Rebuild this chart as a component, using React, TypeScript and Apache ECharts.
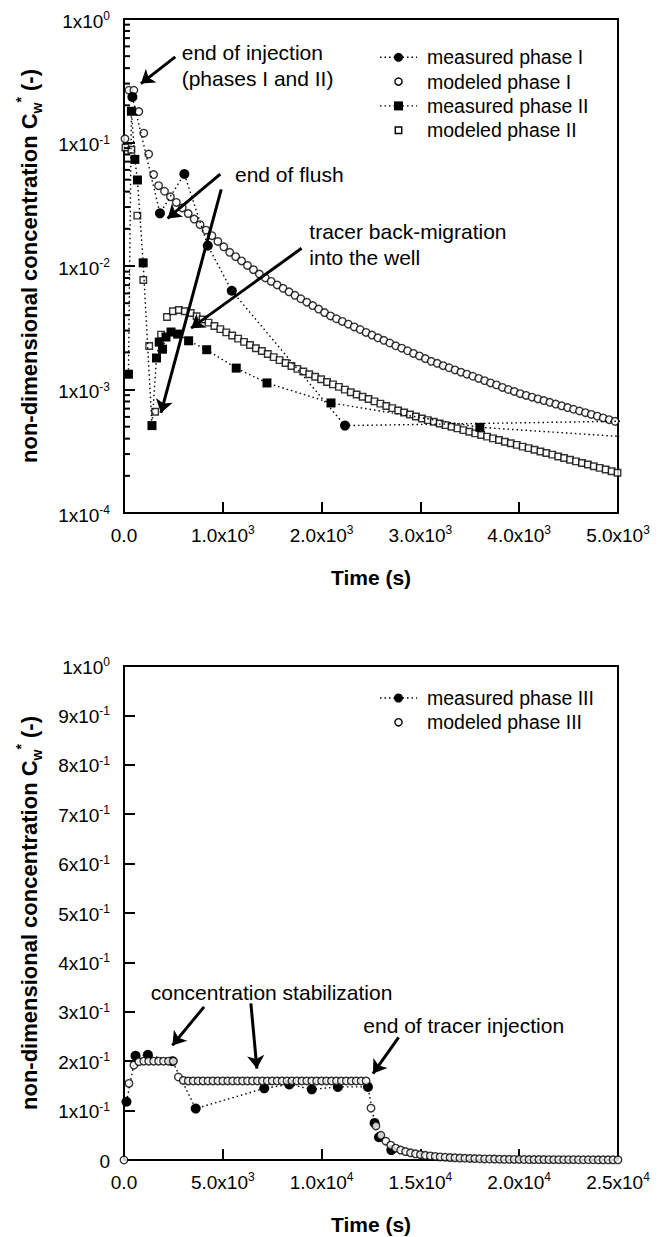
import React, { useEffect, useRef } from 'react';
import * as echarts from 'echarts';

const FONT = '"Liberation Sans", Arial, Helvetica, sans-serif';

// ---------- top chart (phases I and II) ----------
const measuredITime = [85, 364, 611, 848, 1091, 2237, 7200];
const measuredIValue = [0.234, 0.0267, 0.0556, 0.0146, 0.0063, 0.00051, 0.00059];

const measuredIITime = [45, 75, 110, 136, 194, 283, 329, 357, 390, 425, 476, 543, 654, 837, 1136, 1447, 2095, 3602, 7200];
const measuredIIValue = [0.00133, 0.179, 0.073, 0.0497, 0.0106, 0.00051, 0.0018, 0.00242, 0.00212, 0.00266, 0.00292, 0.00281, 0.00248, 0.0021, 0.00149, 0.00113, 0.000778, 0.000494, 0.00032];

const modeledITime = [10, 50, 100, 150, 200, 250, 300, 350, 410, 470, 530, 590, 650, 710, 770, 830, 890, 950, 1010, 1070, 1130, 1190, 1250, 1310, 1370, 1430, 1490, 1550, 1610, 1670, 1730, 1790, 1850, 1910, 1970, 2030, 2090, 2150, 2210, 2270, 2330, 2390, 2450, 2510, 2570, 2630, 2690, 2750, 2810, 2870, 2930, 2990, 3050, 3110, 3170, 3230, 3290, 3350, 3410, 3470, 3530, 3590, 3650, 3710, 3770, 3830, 3890, 3950, 4010, 4070, 4130, 4190, 4250, 4310, 4370, 4430, 4490, 4550, 4610, 4670, 4730, 4790, 4850, 4910, 4970];
const modeledIValue = [0.107, 0.265, 0.265, 0.178, 0.119, 0.0806, 0.055, 0.0447, 0.0403, 0.0363, 0.0327, 0.0295, 0.0266, 0.024, 0.0216, 0.0195, 0.0176, 0.0158, 0.0143, 0.0129, 0.0119, 0.011, 0.0101, 0.00933, 0.00861, 0.008, 0.0075, 0.00703, 0.00659, 0.00618, 0.00579, 0.00543, 0.00509, 0.00478, 0.00448, 0.0042, 0.00394, 0.00374, 0.00356, 0.00338, 0.00321, 0.00306, 0.0029, 0.00276, 0.00262, 0.0025, 0.00238, 0.00226, 0.00216, 0.00206, 0.00196, 0.00187, 0.00178, 0.00169, 0.00163, 0.00156, 0.0015, 0.00144, 0.00138, 0.00133, 0.00128, 0.00123, 0.00118, 0.00113, 0.00109, 0.00104, 0.001, 0.000964, 0.000925, 0.000895, 0.000867, 0.000839, 0.000813, 0.000787, 0.000762, 0.000738, 0.000714, 0.000692, 0.00067, 0.000649, 0.000628, 0.000608, 0.000589, 0.00057, 0.000552];

const modeledIITime = [15, 75, 135, 195, 255, 315, 375, 435, 495, 555, 615, 675, 735, 795, 855, 915, 975, 1035, 1095, 1155, 1215, 1275, 1335, 1395, 1455, 1515, 1575, 1635, 1695, 1755, 1815, 1875, 1935, 1995, 2055, 2115, 2175, 2235, 2295, 2355, 2415, 2475, 2535, 2595, 2655, 2715, 2775, 2835, 2895, 2955, 3015, 3075, 3135, 3195, 3255, 3315, 3375, 3435, 3495, 3555, 3615, 3675, 3735, 3795, 3855, 3915, 3975, 4035, 4095, 4155, 4215, 4275, 4335, 4395, 4455, 4515, 4575, 4635, 4695, 4755, 4815, 4875, 4935, 4995];
const modeledIIValue = [0.091, 0.0874, 0.0256, 0.0077, 0.00225, 0.00066, 0.00278, 0.00386, 0.0043, 0.0044, 0.0043, 0.00416, 0.00392, 0.00369, 0.00348, 0.00327, 0.00308, 0.0029, 0.00274, 0.00258, 0.00243, 0.00229, 0.00216, 0.00205, 0.00194, 0.00183, 0.00173, 0.00164, 0.00155, 0.00147, 0.0014, 0.00133, 0.00127, 0.00121, 0.00115, 0.0011, 0.00105, 0.000998, 0.000951, 0.000912, 0.000873, 0.000838, 0.000802, 0.000769, 0.000736, 0.000706, 0.000676, 0.000652, 0.000628, 0.000605, 0.000583, 0.000565, 0.000548, 0.000531, 0.000515, 0.000499, 0.000484, 0.000469, 0.000455, 0.000441, 0.000428, 0.000415, 0.000402, 0.00039, 0.000378, 0.000367, 0.000356, 0.000345, 0.000335, 0.000325, 0.000315, 0.000306, 0.000297, 0.000287, 0.000279, 0.00027, 0.000262, 0.000254, 0.000247, 0.000239, 0.000232, 0.000225, 0.000218, 0.000212];

const logMinorTicks = [
  2e-4, 3e-4, 4e-4, 5e-4, 6e-4, 7e-4, 8e-4, 9e-4,
  2e-3, 3e-3, 4e-3, 5e-3, 6e-3, 7e-3, 8e-3, 9e-3,
  2e-2, 3e-2, 4e-2, 5e-2, 6e-2, 7e-2, 8e-2, 9e-2,
  2e-1, 3e-1, 4e-1, 5e-1, 6e-1, 7e-1, 8e-1, 9e-1,
];

// arrows of the top chart, [time, concentration] from -> to
const topArrows = [
  [[519, 0.493], [171, 0.3]],
  [[974, 0.0555], [441, 0.0243]],
  [[984, 0.0418], [374, 0.000646]],
  [[1797, 0.0139], [679, 0.00314]],
];

// ---------- bottom chart (phase III) ----------
const measuredIIITime = [127, 584, 1208, 2447, 3629, 7097, 8365, 9503, 10822, 12345, 12680, 12903, 13528];
const measuredIIIValue = [0.118, 0.211, 0.213, 0.2, 0.104, 0.145, 0.153, 0.143, 0.148, 0.148, 0.075, 0.046, 0.02];

const modeledIIITime = [0, 250, 500, 750, 1000, 1250, 1500, 1750, 2000, 2250, 2500, 2750, 3000, 3250, 3500, 3750, 4000, 4250, 4500, 4750, 5000, 5250, 5500, 5750, 6000, 6250, 6500, 6750, 7000, 7250, 7500, 7750, 8000, 8250, 8500, 8750, 9000, 9250, 9500, 9750, 10000, 10250, 10500, 10750, 11000, 11250, 11500, 11750, 12000, 12250, 12500, 12750, 13000, 13250, 13500, 13750, 14000, 14250, 14500, 14750, 15000, 15250, 15500, 15750, 16000, 16250, 16500, 16750, 17000, 17250, 17500, 17750, 18000, 18250, 18500, 18750, 19000, 19250, 19500, 19750, 20000, 20250, 20500, 20750, 21000, 21250, 21500, 21750, 22000, 22250, 22500, 22750, 23000, 23250, 23500, 23750, 24000, 24250, 24500, 24750, 25000];
const modeledIIIValue = [0, 0.155, 0.192, 0.199, 0.2, 0.2, 0.2, 0.2, 0.2, 0.2, 0.2, 0.168, 0.161, 0.16, 0.16, 0.16, 0.16, 0.16, 0.16, 0.16, 0.16, 0.16, 0.16, 0.16, 0.16, 0.16, 0.16, 0.16, 0.16, 0.16, 0.16, 0.16, 0.16, 0.16, 0.16, 0.16, 0.16, 0.16, 0.16, 0.16, 0.16, 0.16, 0.16, 0.16, 0.16, 0.16, 0.16, 0.16, 0.16, 0.16, 0.105, 0.069, 0.05, 0.038, 0.03, 0.024, 0.02, 0.017, 0.0145, 0.0125, 0.0108, 0.0094, 0.0082, 0.0072, 0.0063, 0.0056, 0.005, 0.0044, 0.0039, 0.0035, 0.0031, 0.0028, 0.0025, 0.0022, 0.002, 0.0018, 0.0016, 0.0014, 0.0013, 0.0012, 0.0011, 0.001, 0.0009, 0.0009, 0.0008, 0.0008, 0.0007, 0.0007, 0.0007, 0.0006, 0.0006, 0.0006, 0.0005, 0.0005, 0.0005, 0.0005, 0.0004, 0.0004, 0.0004, 0.0004, 0.0004];

const bottomArrows = [
  [[4051, 0.31], [2447, 0.232]],
  [[6421, 0.317], [6726, 0.185]],
  [[13898, 0.248], [12599, 0.175]],
];

const topLegend = ['measured phase I', 'modeled phase I', 'measured phase II', 'modeled phase II'];
const bottomLegend = ['measured phase III', 'modeled phase III'];

const zip = (t: number[], v: number[]) => t.map((x, i) => [x, v[i]]);

const supRich = {
  s: { fontSize: 12, lineHeight: 12, verticalAlign: 'top', fontFamily: FONT, color: '#000' },
};

const nameRich = {
  sub: { fontSize: 14, lineHeight: 14, fontWeight: 'bold', verticalAlign: 'bottom', fontFamily: FONT, color: '#000' },
  sup: { fontSize: 14, lineHeight: 14, fontWeight: 'bold', verticalAlign: 'top', fontFamily: FONT, color: '#000' },
};

const dotted = { color: '#000', width: 1.4, type: [1.5, 3] as any };

function axisCommon() {
  return {
    axisLine: { show: true, onZero: false, lineStyle: { color: '#000', width: 2 } },
    axisTick: { show: true, inside: true, length: 11, lineStyle: { color: '#000', width: 2 } },
    splitLine: { show: false },
  };
}

function labelCommon(extra: any) {
  return {
    color: '#000',
    fontFamily: FONT,
    fontSize: 19,
    lineHeight: 22,
    rich: supRich,
    ...extra,
  };
}

const yName = 'non-dimensional concentration C{sub|w}{sup|*} (-)';
const yNameStyle = {
  fontFamily: FONT,
  fontSize: 22,
  fontWeight: 'bold',
  color: '#000',
  lineHeight: 30,
  rich: nameRich,
};

function arrowMarkLine(arrows: number[][][]) {
  return {
    silent: true,
    symbol: ['none', 'arrow'],
    symbolSize: 13,
    label: { show: false },
    lineStyle: { color: '#000', width: 3, type: 'solid' },
    emphasis: { disabled: true },
    data: arrows.map(([a, b]) => [{ coord: a }, { coord: b }]),
  };
}

function legendGraphic(names: string[], kinds: { sym: string; filled: boolean }[], y0: number, gap: number) {
  const els: any[] = [];
  names.forEach((name, i) => {
    const y = y0 + i * gap;
    const k = kinds[i];
    if (k.filled) {
      els.push({ type: 'line', shape: { x1: 380, y1: y, x2: 417, y2: y }, style: { stroke: '#000', lineWidth: 1.4, lineDash: [1.5, 3] } });
    }
    if (k.sym === 'circle') {
      els.push({
        type: 'circle',
        shape: { cx: 398.5, cy: y, r: k.filled ? 4.5 : 3.6 },
        style: k.filled ? { fill: '#000' } : { fill: '#fff', stroke: '#000', lineWidth: 1.4 },
      });
    } else {
      const s = k.filled ? 9 : 6.5;
      els.push({
        type: 'rect',
        shape: { x: 398.5 - s / 2, y: y - s / 2, width: s, height: s },
        style: k.filled ? { fill: '#000' } : { fill: '#fff', stroke: '#000', lineWidth: 1.4 },
      });
    }
    els.push({
      type: 'text',
      x: 427,
      y,
      style: { text: name, fill: '#000', font: `19.5px ${FONT}`, textVerticalAlign: 'middle', verticalAlign: 'middle' },
    });
  });
  return els;
}

function note(text: string, x: number, y: number) {
  return {
    type: 'text',
    x,
    y,
    style: { text, fill: '#000', font: `21px ${FONT}`, textVerticalAlign: 'middle', verticalAlign: 'middle' },
  };
}

const openStyle = { color: '#fff', borderColor: '#000', borderWidth: 1.4 };

export default function App() {
  const ref = useRef<HTMLDivElement>(null);

  useEffect(() => {
    if (!ref.current) return;
    const chart = echarts.init(ref.current, undefined, { renderer: 'svg' });

    const option: any = {
      animation: false,
      backgroundColor: '#fff',
      grid: [
        { left: 124, top: 19, width: 494, height: 494, show: true, borderColor: '#000', borderWidth: 2, backgroundColor: 'transparent' },
        { left: 124, top: 666, width: 494, height: 494, show: true, borderColor: '#000', borderWidth: 2, backgroundColor: 'transparent' },
      ],
      xAxis: [
        {
          type: 'value', gridIndex: 0, min: 0, max: 5000, interval: 1000,
          ...axisCommon(),
          axisLabel: labelCommon({
            margin: 11,
            formatter: (v: number) => (v === 0 ? '0.0' : `${(v / 1000).toFixed(1)}x10{s|3}`),
          }),
          name: 'Time (s)', nameLocation: 'middle', nameGap: 54,
          nameTextStyle: { fontFamily: FONT, fontSize: 21, fontWeight: 'bold', color: '#000' },
        },
        {
          type: 'value', gridIndex: 1, min: 0, max: 25000, interval: 5000,
          ...axisCommon(),
          axisLabel: labelCommon({
            margin: 11,
            formatter: (v: number) => {
              if (v === 0) return '0.0';
              const e = v >= 10000 ? 4 : 3;
              return `${(v / Math.pow(10, e)).toFixed(1)}x10{s|${e}}`;
            },
          }),
          name: 'Time (s)', nameLocation: 'middle', nameGap: 54,
          nameTextStyle: { fontFamily: FONT, fontSize: 21, fontWeight: 'bold', color: '#000' },
        },
      ],
      yAxis: [
        {
          type: 'log', gridIndex: 0, min: 1e-4, max: 1, logBase: 10, splitNumber: 4,
          ...axisCommon(),
          axisLabel: labelCommon({
            margin: 14,
            padding: [4, 0, 0, 0],
            formatter: (v: number) => `1x10{s|${Math.round(Math.log10(v))}}`,
          }),
          name: yName, nameLocation: 'middle', nameRotate: 90, nameGap: 80,
          nameTextStyle: yNameStyle,
        },
        {
          type: 'value', gridIndex: 1, min: 0, max: 1, interval: 0.1,
          ...axisCommon(),
          axisLabel: labelCommon({
            margin: 14,
            padding: [2, 0, 0, 0],
            formatter: (v: number) => {
              if (v < 1e-9) return '0';
              if (Math.abs(v - 1) < 1e-9) return '1x10{s|0}';
              return `${Math.round(v * 10)}x10{s|-1}`;
            },
          }),
          name: yName, nameLocation: 'middle', nameRotate: 90, nameGap: 80,
          nameTextStyle: yNameStyle,
        },
      ],
      series: [
        {
          type: 'custom', xAxisIndex: 0, yAxisIndex: 0, silent: true, clip: false, z: 5,
          encode: { x: 0, y: 1 },
          data: logMinorTicks.map((v) => [0, v]),
          renderItem: (params: any, api: any) => {
            const p = api.coord([0, api.value(1)]);
            return {
              type: 'line',
              shape: { x1: p[0], y1: p[1], x2: p[0] + 6, y2: p[1] },
              style: { stroke: '#000', lineWidth: 2 },
            };
          },
        },
        {
          name: 'modeled phase I', type: 'scatter', xAxisIndex: 0, yAxisIndex: 0, z: 3,
          symbol: 'circle', symbolSize: 7.5,
          itemStyle: openStyle,
          data: zip(modeledITime, modeledIValue),
        },
        {
          name: 'modeled phase II', type: 'scatter', xAxisIndex: 0, yAxisIndex: 0, z: 3,
          symbol: 'rect', symbolSize: 6.5,
          itemStyle: openStyle,
          data: zip(modeledIITime, modeledIIValue),
        },
        {
          name: 'measured phase I', type: 'line', xAxisIndex: 0, yAxisIndex: 0, z: 4,
          symbol: 'circle', symbolSize: 10, showSymbol: true,
          itemStyle: { color: '#000' }, lineStyle: dotted,
          data: zip(measuredITime, measuredIValue),
          markLine: arrowMarkLine(topArrows),
        },
        {
          name: 'measured phase II', type: 'line', xAxisIndex: 0, yAxisIndex: 0, z: 4,
          symbol: 'rect', symbolSize: 9, showSymbol: true,
          itemStyle: { color: '#000' }, lineStyle: dotted,
          data: zip(measuredIITime, measuredIIValue),
        },
        {
          name: 'modeled phase III', type: 'scatter', xAxisIndex: 1, yAxisIndex: 1, z: 3,
          symbol: 'circle', symbolSize: 7.5,
          itemStyle: openStyle,
          data: zip(modeledIIITime, modeledIIIValue),
        },
        {
          name: 'measured phase III', type: 'line', xAxisIndex: 1, yAxisIndex: 1, z: 2,
          symbol: 'circle', symbolSize: 10, showSymbol: true,
          itemStyle: { color: '#000' }, lineStyle: dotted,
          data: zip(measuredIIITime, measuredIIIValue),
          markLine: arrowMarkLine(bottomArrows),
        },
      ],
      graphic: [
        ...legendGraphic(
          topLegend,
          [
            { sym: 'circle', filled: true },
            { sym: 'circle', filled: false },
            { sym: 'rect', filled: true },
            { sym: 'rect', filled: false },
          ],
          57.3,
          24.3
        ),
        ...legendGraphic(
          bottomLegend,
          [
            { sym: 'circle', filled: true },
            { sym: 'circle', filled: false },
          ],
          698,
          24.3
        ),
        note('end of injection', 181.7, 52),
        note('(phases I and II)', 181.7, 78),
        note('end of flush', 235, 174),
        note('tracer back-migration', 309.3, 231),
        note('into the well', 309.3, 257),
        note('concentration stabilization', 150.7, 992),
        note('end of tracer injection', 363.3, 1025),
      ],
    };

    chart.setOption(option);
    return () => chart.dispose();
  }, []);

  return (
    <div
      ref={ref}
      style={{ position: 'absolute', left: 0, top: 0, width: 672, height: 1237, background: '#fff' }}
    />
  );
}
